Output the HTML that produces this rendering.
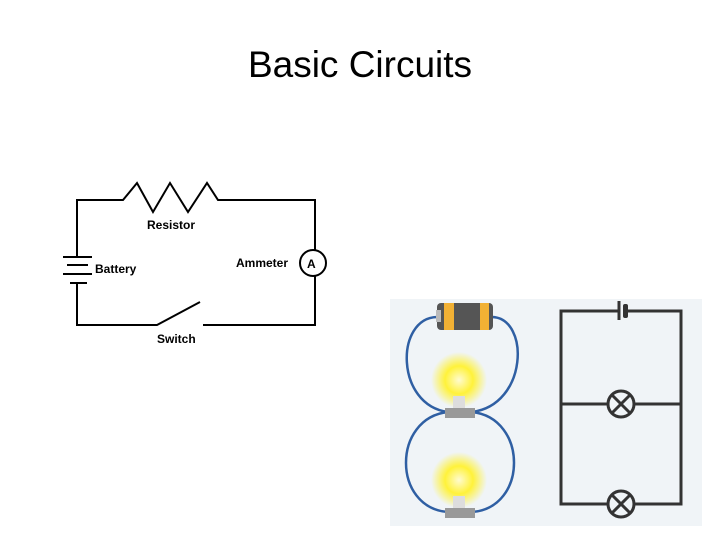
<!DOCTYPE html>
<html><head><style>
body{margin:0;width:720px;height:540px;background:#fff;overflow:hidden;position:relative;font-family:"Liberation Sans",sans-serif}
.t{position:absolute;left:0;width:720px;top:44px;text-align:center;font-size:37px;color:#000}
</style></head><body>
<div class="t">Basic Circuits</div>
<svg width="720" height="540" style="position:absolute;left:0;top:0">
<g stroke="#000" stroke-width="2" fill="none">
<polyline points="77,257 77,200 123,200 137,183 153,212 170,183 188,212 207,183 218,200 315,200 315,250"/>
<line x1="63" y1="257" x2="92" y2="257"/><line x1="67" y1="265" x2="88" y2="265"/>
<line x1="63" y1="274" x2="92" y2="274"/><line x1="70" y1="283" x2="87" y2="283"/>
<polyline points="77,283 77,325 157,325 200,302"/>
<polyline points="203,325 315,325 315,276"/>
<circle cx="313" cy="263" r="13"/>
</g>
<g font-size="12" font-weight="bold" fill="#000">
<text x="147" y="229">Resistor</text>
<text x="95" y="273">Battery</text>
<text x="236" y="267">Ammeter</text>
<text x="157" y="343">Switch</text>
<text x="307" y="268" font-size="12">A</text>
</g>
<rect x="390" y="299" width="312" height="227" fill="#f0f4f7"/>
<defs><radialGradient id="g"><stop offset="0" stop-color="#fffbd0"/><stop offset="0.5" stop-color="#fff23a"/><stop offset="1" stop-color="#fff23a" stop-opacity="0"/></radialGradient></defs>
<g stroke="#2f5fa3" stroke-width="2.5" fill="none">
<path d="M437,317 C395,318 395,405 448,412"/>
<path d="M492,317 C530,318 528,405 472,412"/>
<path d="M448,412 C392,418 392,508 448,512"/>
<path d="M472,412 C528,418 528,508 472,512"/>
</g>
<rect x="437" y="303" width="56" height="27" rx="4" fill="#555"/>
<rect x="444" y="303" width="10" height="27" fill="#f2b134"/>
<rect x="480" y="303" width="9" height="27" fill="#f2b134"/>
<rect x="436" y="310" width="5" height="12" fill="#bbb"/>
<circle cx="459" cy="380" r="28" fill="url(#g)"/>
<circle cx="459" cy="480" r="28" fill="url(#g)"/>
<rect x="453" y="396" width="12" height="12" fill="#ddd"/>
<rect x="453" y="496" width="12" height="12" fill="#ddd"/>
<rect x="445" y="408" width="30" height="10" fill="#999"/>
<rect x="445" y="508" width="30" height="10" fill="#999"/>
<g stroke="#333" stroke-width="3" fill="none">
<polyline points="619,311 561,311 561,504 608,504"/>
<polyline points="626,311 681,311 681,504 634,504"/>
<line x1="561" y1="404" x2="608" y2="404"/><line x1="634" y1="404" x2="681" y2="404"/>
<line x1="619" y1="301" x2="619" y2="320"/>
<circle cx="621" cy="404" r="13"/><circle cx="621" cy="504" r="13"/>
<path d="M612,395 L630,413 M630,395 L612,413 M612,495 L630,513 M630,495 L612,513"/>
</g>
<rect x="623" y="304" width="5" height="14" rx="2" fill="#333"/>
</svg>
</body></html>
